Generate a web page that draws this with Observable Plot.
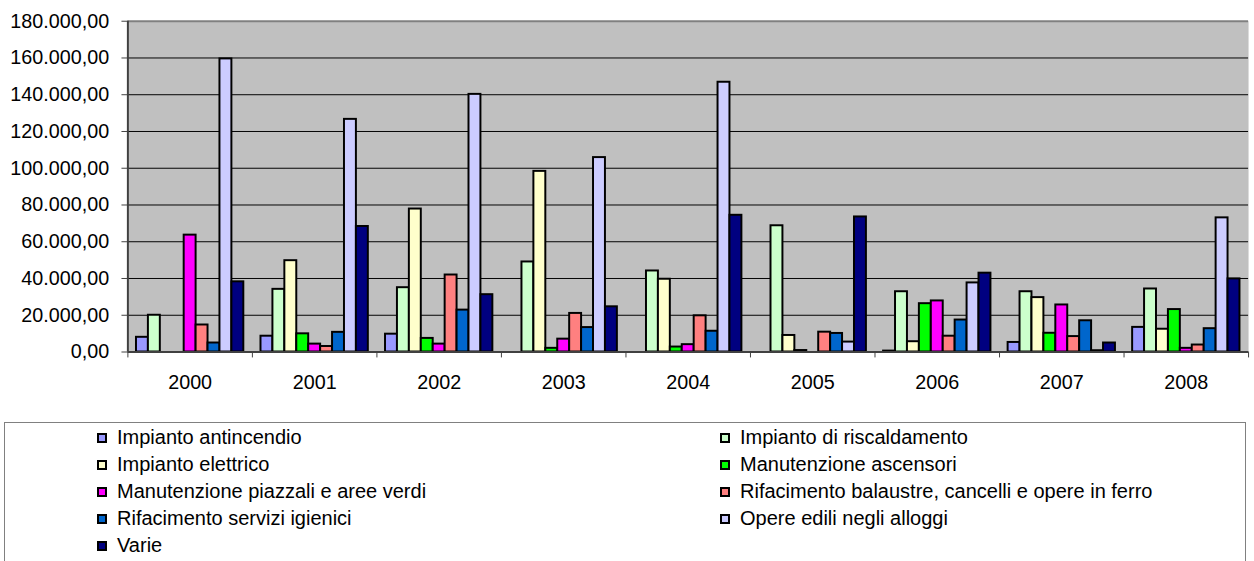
<!DOCTYPE html>
<html><head><meta charset="utf-8">
<script src="https://cdn.jsdelivr.net/npm/d3@7"></script>
<script src="https://cdn.jsdelivr.net/npm/@observablehq/plot@0.6"></script>
<style>
html,body{margin:0;padding:0;overflow:hidden;background:#fff;width:1254px;height:561px;}
#chart{position:absolute;left:0;top:0;}
#legend{position:absolute;left:4px;top:422px;width:1242px;height:200px;border:1px solid #808080;box-sizing:border-box;font-family:"Liberation Sans",Arial,sans-serif;font-size:20px;color:#000;}
.item{position:absolute;display:flex;align-items:center;height:27px;white-space:nowrap;}
.sw{width:6px;height:6px;border:2px solid #000;margin-right:10px;flex:none;}
</style></head><body>
<div id="chart"></div><div id="legend"></div>
<script>
const years = ["2000","2001","2002","2003","2004","2005","2006","2007","2008"];
const series = [
  "Impianto antincendio",
  "Impianto di riscaldamento",
  "Impianto elettrico",
  "Manutenzione ascensori",
  "Manutenzione piazzali e aree verdi",
  "Rifacimento balaustre, cancelli e opere in ferro",
  "Rifacimento servizi igienici",
  "Opere edili negli alloggi",
  "Varie"
];
const colors = ["#9999ff","#ccffcc","#ffffcc","#00ff00","#ff00ff","#ff8080","#0066cc","#ccccff","#000080"];

const antincendio   = [8000, 8600, 9700, 0, 0, 0, 500, 5200, 13400];
const riscaldamento = [20000, 34100, 35000, 49000, 44100, 68700, 32800, 32800, 34300];
const elettrico     = [0, 49700, 77800, 98300, 39600, 9000, 5600, 29600, 12400];
const ascensori     = [0, 9900, 7400, 2000, 2700, 800, 26300, 10200, 23100];
const piazzali      = [63600, 4300, 4300, 7000, 4000, 0, 27800, 25600, 2000];
const balaustre     = [14700, 3000, 41900, 21000, 19700, 10800, 8600, 8400, 3800];
const servizi       = [4900, 10700, 22800, 13300, 11300, 10100, 17400, 17000, 12700];
const opere         = [159500, 126600, 140200, 105800, 146800, 5400, 37600, 700, 73000];
const varie         = [38200, 68300, 31200, 24600, 74400, 73500, 42900, 4900, 39800];
const yTicks = [0, 20000, 40000, 60000, 80000, 100000, 120000, 140000, 160000, 180000];

const values = [antincendio, riscaldamento, elettrico, ascensori, piazzali, balaustre, servizi, opere, varie];
const rows = [];
series.forEach((s, j) => values[j].forEach((v, i) => rows.push({year: years[i], yi: i, series: s, sj: j, value: v})));

const fmt = d3.formatLocale({decimal: ",", thousands: ".", grouping: [3], currency: ["€", ""]}).format(",.2f");
const pad = 0.069, bw = (1 - 2 * pad) / series.length;
const font = "'Liberation Sans', Arial, sans-serif";

const chart = Plot.plot({
  width: 1270, height: 410,
  marginLeft: 129, marginRight: 6, marginTop: 21, marginBottom: 54,
  style: {fontFamily: font, fontSize: "20px", background: "transparent", color: "#000"},
  x: {domain: [0, years.length], axis: null},
  y: {domain: [0, 180000], axis: null},
  color: {domain: series, range: colors},
  marks: [
    Plot.frame({fill: "#c0c0c0", stroke: null}),
    Plot.ruleY(yTicks.filter(d => d > 0 && d < 180000), {stroke: "#000", strokeWidth: 1}),
    Plot.rectY(rows.filter(d => d.value > 0), {
      x1: d => d.yi + pad + d.sj * bw,
      x2: d => d.yi + pad + (d.sj + 1) * bw,
      y1: 0, y2: "value",
      fill: "series", stroke: "#000", strokeWidth: 2
    }),
    Plot.ruleY([180000], {stroke: "#808080", strokeWidth: 2}),
    Plot.ruleY([0], {stroke: "#404040", strokeWidth: 2}),
    Plot.ruleX([0], {stroke: "#404040", strokeWidth: 2}),
    Plot.axisY({ticks: yTicks, tickFormat: fmt, tickSize: 6, tickPadding: 13, stroke: "#404040", fill: "#000", label: null, fontSize: 20, fontFamily: font}),
    Plot.axisX({ticks: d3.range(0, years.length + 1), tickFormat: () => "", tickSize: 6, stroke: "#404040", label: null}),
    Plot.axisX({ticks: years.map((d, i) => i + 0.5), tickFormat: d => years[Math.floor(d)], tickSize: 0, tickPadding: 23, fill: "#000", label: null, fontSize: 20, fontFamily: font})
  ]
});
document.getElementById("chart").appendChild(chart);

const legend = document.getElementById("legend");
series.forEach((s, j) => {
  const row = Math.floor(j / 2), col = j % 2;
  const item = document.createElement("div");
  item.className = "item";
  item.style.left = (col === 0 ? 92 : 715) + "px";
  item.style.top = (row * 27 + 1) + "px";
  const sw = document.createElement("span");
  sw.className = "sw";
  sw.style.background = colors[j];
  const t = document.createElement("span");
  t.textContent = s;
  item.appendChild(sw); item.appendChild(t);
  legend.appendChild(item);
});
</script>
</body></html>
